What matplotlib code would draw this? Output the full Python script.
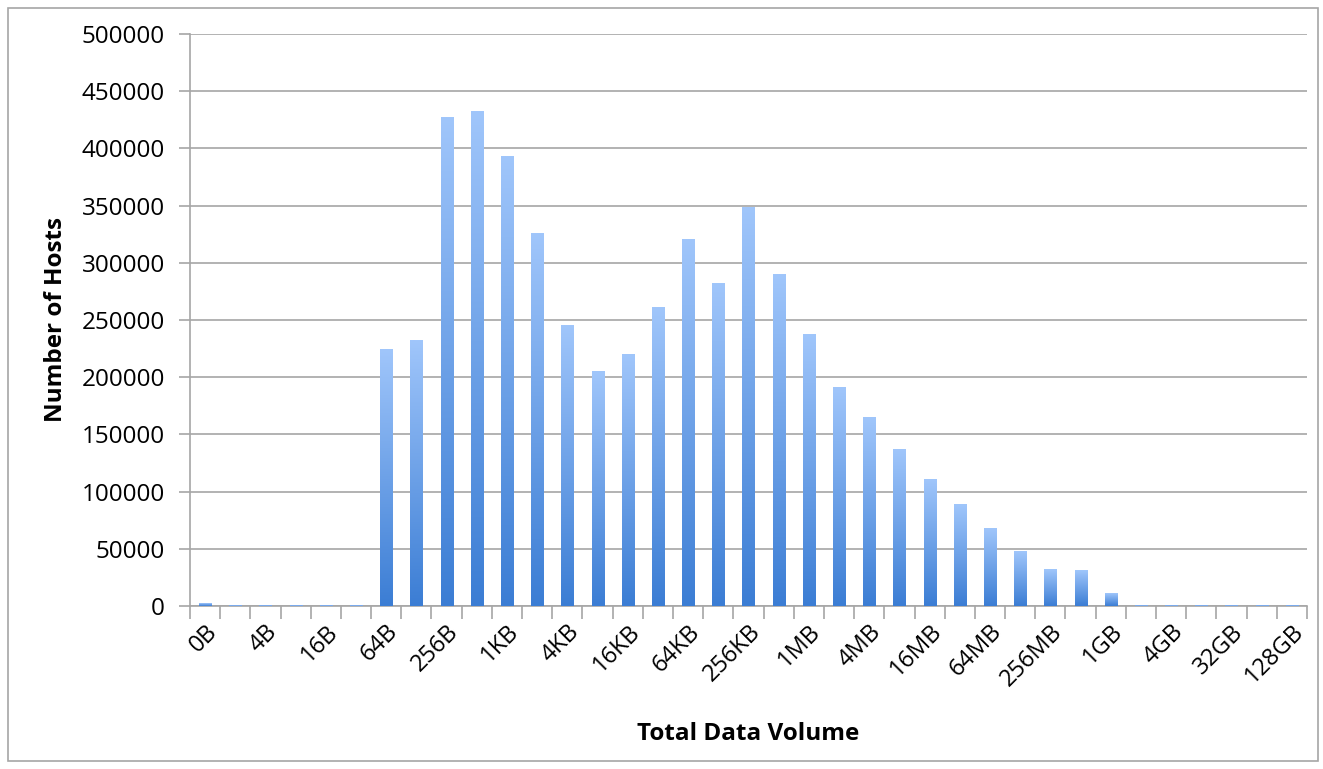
import numpy as np
import matplotlib.pyplot as plt
from matplotlib.colors import LinearSegmentedColormap
from matplotlib.patches import Rectangle

plt.rcParams['font.family'] = ['Open Sans', 'DejaVu Sans']

categories = ["0B", "2B", "4B", "8B", "16B", "32B", "64B", "128B", "256B", "512B",
              "1KB", "2KB", "4KB", "8KB", "16KB", "32KB", "64KB", "128KB", "256KB", "512KB",
              "1MB", "2MB", "4MB", "8MB", "16MB", "32MB", "64MB", "128MB", "256MB", "512MB",
              "1GB", "2GB", "4GB", "16GB", "32GB", "64GB", "128GB"]
hosts = [2000, 400, 300, 300, 300, 300, 224000, 232000, 427000, 432000,
         393000, 326000, 245000, 205000, 220000, 261000, 320000, 282000, 348000, 290000,
         237000, 191000, 165000, 137000, 111000, 89000, 68000, 48000, 32000, 31000,
         10500, 300, 300, 300, 300, 300, 300]

fig = plt.figure(figsize=(13.23, 7.69), dpi=100)
ax = fig.add_axes([0.1436, 0.212, 0.8443, 0.7438])

x = np.arange(len(categories))
bars = ax.bar(x, hosts, width=0.4, facecolor='none', edgecolor='none', zorder=3)

# vertical gradient inside each bar, light on top
cmap = LinearSegmentedColormap.from_list('grad', ['#3b7dd4', '#a0c6fb'])
grad = np.linspace(0, 1, 256).reshape(-1, 1)
for b in bars:
    x0, y0 = b.get_x(), b.get_y()
    ax.imshow(grad, cmap=cmap, origin='lower', aspect='auto', zorder=3,
              extent=[x0, x0 + b.get_width(), y0, y0 + b.get_height()])

ax.set_xlim(-0.5, len(categories) - 0.5)
ax.set_ylim(0, 500000)
ax.set_yticks(np.arange(0, 500001, 50000))
ax.yaxis.grid(True, color='#a6a6a6', lw=1.2, zorder=0)
ax.set_axisbelow(True)

ax.set_xticks(x[::2])
ax.set_xticklabels(categories[::2], rotation=45, ha='right', rotation_mode='anchor')
ax.set_xticks(np.arange(-0.5, len(categories)), minor=True)
ax.tick_params(axis='x', which='major', length=0, labelsize=17, pad=10)
ax.tick_params(axis='x', which='minor', length=9, width=1.2, color='#a6a6a6')
ax.tick_params(axis='y', length=8, width=1.2, color='#a6a6a6', labelsize=17.5, pad=10)

for s in ['top', 'right']:
    ax.spines[s].set_visible(False)
for s in ['left', 'bottom']:
    ax.spines[s].set_color('#a6a6a6')
    ax.spines[s].set_linewidth(1.2)

ax.set_xlabel('Total Data Volume', fontsize=17.5, fontweight='bold', labelpad=22)
ax.set_ylabel('Number of Hosts', fontsize=17.5, fontweight='bold', labelpad=10)

fig.patches.append(Rectangle((0.006, 0.01), 0.99, 0.98, transform=fig.transFigure,
                             fill=False, edgecolor='#a6a6a6', lw=1.2))

fig.savefig('out.png', dpi=100)
